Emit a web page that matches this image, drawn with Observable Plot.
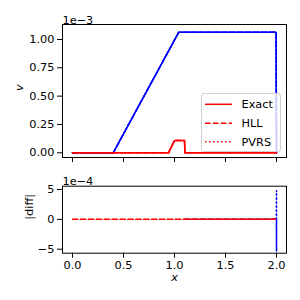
<!DOCTYPE html>
<html><head><meta charset="utf-8">
<script src="https://cdn.jsdelivr.net/npm/d3@7"></script>
<script src="https://cdn.jsdelivr.net/npm/@observablehq/plot@0.6"></script>
<style>
body{margin:0;background:#fff}
#chart{position:relative;width:300px;height:300px;font-family:"DejaVu Sans",sans-serif;}
#chart svg{display:block}
#legend{position:absolute;left:201px;top:93px;width:80px;height:59px;box-sizing:border-box;background:rgba(255,255,255,0.8);border:1px solid #d0d0d0;border-radius:3px;}
</style>
</head><body><div id="chart"></div><script>
// ---- data ----
const xTicks = [0, 0.5, 1.0, 1.5, 2.0];
const vTicks = [0, 0.25e-3, 0.5e-3, 0.75e-3, 1.0e-3];
const dTicks = [-5e-4, 0, 5e-4];
const solvers = ["Exact", "HLL", "PVRS"];
// blue component (top panel)
const xBlue = [0, 0.399, 1.042, 1.996, 2.0];
const vBlue = [0, 0, 1.064e-3, 1.064e-3, 0];
// red component (top panel)
const xRed = [0, 0.941, 1.0, 1.098, 1.102, 2.0];
const vRed = [0, 0, 0.108e-3, 0.108e-3, 0, 0];
// bottom panel differences
const xRedHLL = [0, 2.0];
const dRedHLL = [0, 0];
const xRedPVRS = [1.1, 2.0];
const dRedPVRS = [0, 0];
const xBlueHLL = [1.1, 1.999, 2.0, 2.0];
const dBlueHLL = [0, 0, -5.3e-4, 0];
const xBluePVRS = [1.999, 2.0, 2.0];
const dBluePVRS = [0, 4.8e-4, 0];

(function () {
const styles = {Exact: null, HLL: "5.5,2.4", PVRS: "1.5,2.5"};
const toRows = (xs, ys) => xs.map((x, i) => ({x, y: ys[i]}));
const FS = 11.3;
const font = {fontFamily: "DejaVu Sans", fontSize: FS + "px", color: "black", background: "white", overflow: "visible"};

const topMarks = [];
for (const s of solvers) {
  topMarks.push(Plot.line(toRows(xBlue, vBlue), {x: "x", y: "y", stroke: "blue", strokeWidth: 1.5, strokeDasharray: styles[s]}));
}
for (const s of solvers) {
  topMarks.push(Plot.line(toRows(xRed, vRed), {x: "x", y: "y", stroke: "red", strokeWidth: 1.5, strokeDasharray: styles[s]}));
}

const topPlot = Plot.plot({
  width: 300, height: 172,
  marginTop: 24, marginBottom: 15, marginLeft: 62, marginRight: 14,
  style: font,
  x: {domain: [-0.098, 2.098]},
  y: {domain: [-0.0415e-3, 1.132e-3]},
  marks: [
    ...topMarks,
    Plot.axisX({ticks: xTicks, tickSize: 5, tickFormat: () => "", label: null}),
    Plot.axisY({ticks: vTicks, tickSize: 5, tickPadding: 3, tickFormat: d => (d / 1e-3).toFixed(2), label: null}),
    Plot.frame({stroke: "black", strokeWidth: 1}),
    Plot.text(["1e\u22123"], {frameAnchor: "top-left", textAnchor: "start", lineAnchor: "bottom", dy: -1, fontSize: FS}),
    Plot.text(["v"], {frameAnchor: "left", dx: -43, rotate: -90, fontStyle: "italic", fontSize: FS})
  ]
});

const bottomPlot = Plot.plot({
  width: 300, height: 128,
  marginTop: 13.7, marginBottom: 47.3, marginLeft: 62, marginRight: 14,
  style: font,
  x: {domain: [-0.098, 2.098]},
  y: {domain: [-5.67e-4, 5.55e-4]},
  marks: [
    Plot.line(toRows(xBlueHLL, dBlueHLL), {x: "x", y: "y", stroke: "blue", strokeWidth: 1.5, strokeDasharray: styles.HLL}),
    Plot.line(toRows(xBluePVRS, dBluePVRS), {x: "x", y: "y", stroke: "blue", strokeWidth: 1.5, strokeDasharray: styles.PVRS}),
    Plot.line(toRows(xRedHLL, dRedHLL), {x: "x", y: "y", stroke: "red", strokeWidth: 1.5, strokeDasharray: styles.HLL}),
    Plot.line(toRows(xRedPVRS, dRedPVRS), {x: "x", y: "y", stroke: "red", strokeWidth: 1.5, strokeDasharray: styles.PVRS}),
    Plot.axisX({ticks: xTicks, tickSize: 5, tickPadding: 3, tickFormat: d => d.toFixed(1), label: null}),
    Plot.axisY({ticks: dTicks, tickSize: 5, tickPadding: 3, tickFormat: d => String(Math.round(d / 1e-4)).replace("-", "\u2212"), label: null}),
    Plot.frame({stroke: "black", strokeWidth: 1}),
    Plot.text(["1e\u22124"], {frameAnchor: "top-left", textAnchor: "start", lineAnchor: "bottom", dy: -1, fontSize: FS}),
    Plot.text(["|diff|"], {frameAnchor: "left", dx: -33, rotate: -90, fontSize: FS}),
    Plot.text(["x"], {frameAnchor: "bottom", dy: 24, lineAnchor: "middle", fontStyle: "italic", fontSize: FS})
  ]
});

const chart = document.getElementById("chart");
chart.appendChild(topPlot);
chart.appendChild(bottomPlot);

// legend overlay
const leg = d3.select(chart).append("div").attr("id", "legend");
const lsvg = leg.append("svg").attr("width", 78).attr("height", 57).style("overflow", "visible");
const rowsY = [10.3, 29.3, 47.7];
solvers.forEach((s, i) => {
  lsvg.append("line").attr("x1", 3).attr("x2", 30).attr("y1", rowsY[i]).attr("y2", rowsY[i])
    .attr("stroke", "red").attr("stroke-width", 1.5).attr("stroke-dasharray", styles[s]);
  lsvg.append("text").attr("x", 39.5).attr("y", rowsY[i]).attr("dy", "0.35em")
    .attr("font-family", "DejaVu Sans").attr("font-size", FS).attr("fill", "black").text(s);
});
})();
</script></body></html>
